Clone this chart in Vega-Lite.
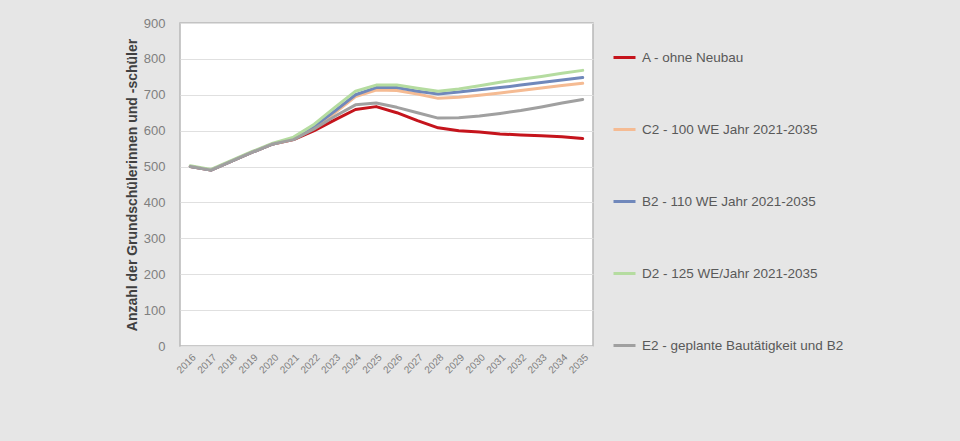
{
  "$schema": "https://vega.github.io/schema/vega-lite/v6.json",
  "autosize": "none",
  "width": 413,
  "height": 323,
  "padding": {"left": 180, "top": 23, "right": 367, "bottom": 95},
  "background": "#e6e6e6",
  "config": {
    "view": {"fill": "#ffffff", "stroke": "#b8b8b8", "strokeWidth": 1.5},
    "font": "Liberation Sans"
  },
  "data": {
    "values": [
      {"year": "2016", "A": 500, "C2": 500, "B2": 500, "D2": 502, "E2": 500},
      {"year": "2017", "A": 490, "C2": 490, "B2": 490, "D2": 492, "E2": 490},
      {"year": "2018", "A": 515, "C2": 515, "B2": 515, "D2": 517, "E2": 515},
      {"year": "2019", "A": 540, "C2": 540, "B2": 540, "D2": 542, "E2": 540},
      {"year": "2020", "A": 563, "C2": 563, "B2": 563, "D2": 565, "E2": 563},
      {"year": "2021", "A": 575, "C2": 577, "B2": 578, "D2": 582, "E2": 575},
      {"year": "2022", "A": 600, "C2": 610, "B2": 612, "D2": 618, "E2": 605},
      {"year": "2023", "A": 630, "C2": 650, "B2": 655, "D2": 665, "E2": 640},
      {"year": "2024", "A": 659, "C2": 695, "B2": 700, "D2": 710, "E2": 672},
      {"year": "2025", "A": 667, "C2": 713, "B2": 720, "D2": 727, "E2": 677},
      {"year": "2026", "A": 650, "C2": 712, "B2": 720, "D2": 727, "E2": 665},
      {"year": "2027", "A": 628, "C2": 702, "B2": 710, "D2": 718, "E2": 650},
      {"year": "2028", "A": 608, "C2": 690, "B2": 702, "D2": 710, "E2": 635},
      {"year": "2029", "A": 600, "C2": 693, "B2": 708, "D2": 716, "E2": 636},
      {"year": "2030", "A": 596, "C2": 699, "B2": 714, "D2": 725, "E2": 641},
      {"year": "2031", "A": 591, "C2": 705, "B2": 720, "D2": 735, "E2": 648},
      {"year": "2032", "A": 588, "C2": 712, "B2": 727, "D2": 743, "E2": 656},
      {"year": "2033", "A": 586, "C2": 719, "B2": 734, "D2": 751, "E2": 666},
      {"year": "2034", "A": 583, "C2": 726, "B2": 741, "D2": 760, "E2": 677},
      {"year": "2035", "A": 578, "C2": 732, "B2": 748, "D2": 768, "E2": 687}
    ]
  },
  "transform": [
    {"fold": ["A", "C2", "B2", "D2", "E2"], "as": ["key", "value"]},
    {"lookup": "key", "from": {"data": {"values": [
      {"key": "A", "series": "A - ohne Neubau", "ord": 5},
      {"key": "C2", "series": "C2 - 100 WE Jahr 2021-2035", "ord": 2},
      {"key": "B2", "series": "B2 - 110 WE Jahr 2021-2035", "ord": 3},
      {"key": "D2", "series": "D2 - 125 WE/Jahr 2021-2035", "ord": 1},
      {"key": "E2", "series": "E2 - geplante Bautätigkeit und B2", "ord": 4}
    ]}, "key": "key", "fields": ["series", "ord"]}}
  ],
  "mark": {"type": "line", "strokeWidth": 3, "strokeCap": "round", "strokeJoin": "round"},
  "encoding": {
    "x": {
      "field": "year", "type": "ordinal",
      "axis": {
        "title": null, "labelAngle": -45, "labelFontSize": 10, "labelColor": "#7f7f7f",
        "ticks": false, "domain": false, "labelPadding": 6, "grid": false
      }
    },
    "y": {
      "field": "value", "type": "quantitative",
      "scale": {"domain": [0, 900], "nice": false},
      "axis": {
        "values": [0, 100, 200, 300, 400, 500, 600, 700, 800, 900],
        "title": "Anzahl der Grundschülerinnen und -schüler",
        "titleFontSize": 14, "titleFontWeight": "bold", "titleColor": "#404040", "titlePadding": 4,
        "labelFontSize": 13, "labelColor": "#7f7f7f", "labelPadding": 15,
        "ticks": false, "domain": false, "gridColor": "#e0e0e0", "gridWidth": 1.2
      }
    },
    "color": {
      "field": "series", "type": "nominal",
      "scale": {
        "domain": ["A - ohne Neubau", "C2 - 100 WE Jahr 2021-2035", "B2 - 110 WE Jahr 2021-2035", "D2 - 125 WE/Jahr 2021-2035", "E2 - geplante Bautätigkeit und B2"],
        "range": ["#c5141c", "#f5bb93", "#7088bb", "#b5dca0", "#a0a0a0"]
      },
      "legend": {
        "title": null, "orient": "none", "legendX": 432, "legendY": 22,
        "symbolType": "stroke", "symbolSize": 484, "symbolStrokeWidth": 3,
        "labelFontSize": 13.5, "labelColor": "#595959", "rowPadding": 53, "labelOffset": 5,
        "labelLimit": 400
      }
    },
    "order": {"field": "ord", "type": "quantitative"}
  }
}
